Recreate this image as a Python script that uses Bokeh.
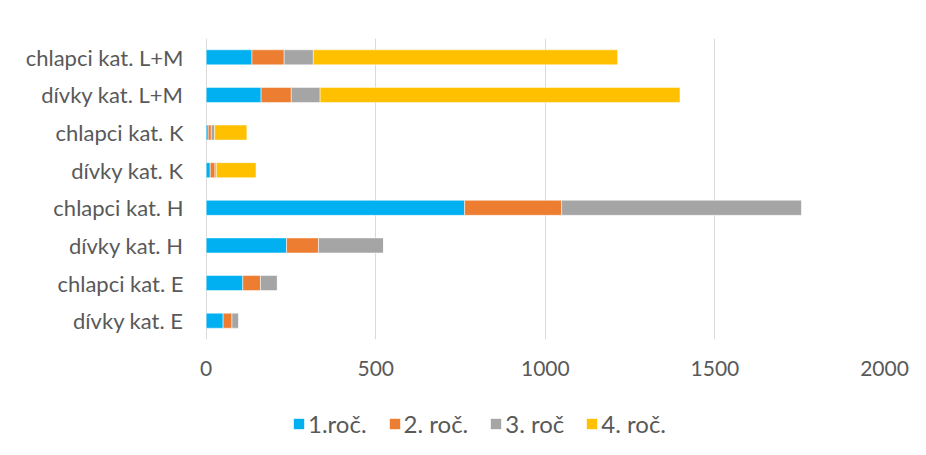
from bokeh.plotting import figure
from bokeh.layouts import column
from bokeh.models import (Range1d, FactorRange, SingleIntervalTicker, Legend, LegendItem,
                          ColumnDataSource)
from bokeh.embed import file_html
from bokeh.resources import INLINE

categories = ["dívky kat. E", "chlapci kat. E", "dívky kat. H", "chlapci kat. H",
              "dívky kat. K", "chlapci kat. K", "dívky kat. L+M", "chlapci kat. L+M"]
series_names = ["1.roč.", "2. roč.", "3. roč", "4. roč."]
r1 = [50, 108, 237, 762, 12, 6, 162, 135]
r2 = [26, 52, 94, 286, 14, 9, 89, 95]
r3 = [20, 50, 192, 708, 4, 10, 85, 86]
r4 = [0, 0, 0, 0, 117, 95, 1061, 897]
colors = ["#00B0F0", "#ED7D31", "#A5A5A5", "#FFC000"]
x_ticks_interval = 500

FONT = "Lato"
TEXT = "#595959"

data = {"cat": categories, "s1": r1, "s2": r2, "s3": r3, "s4": r4}
keys = ["s1", "s2", "s3", "s4"]

p = figure(width=910, height=390, output_backend="svg", toolbar_location=None,
           y_range=FactorRange(factors=categories, range_padding=0),
           x_range=Range1d(-2, 2000),
           min_border_left=205, min_border_right=26, min_border_top=38, min_border_bottom=51)

rs = p.hbar_stack(keys, y="cat", height=0.4, color=colors,
                  line_color="white", line_width=0.5, source=ColumnDataSource(data))

p.xaxis.ticker = SingleIntervalTicker(interval=x_ticks_interval)
p.xgrid.ticker = SingleIntervalTicker(interval=x_ticks_interval)
p.xgrid.grid_line_color = "#d9d9d9"
p.xgrid.grid_line_width = 1
p.ygrid.grid_line_color = None
p.outline_line_color = None

for ax in (p.xaxis, p.yaxis):
    ax.axis_line_color = None
    ax.major_tick_line_color = None
    ax.minor_tick_line_color = None
    ax.major_label_text_font = FONT
    ax.major_label_text_color = TEXT
p.xaxis.major_label_text_font_size = "21px"
p.yaxis.major_label_text_font_size = "22px"
p.xaxis.major_label_standoff = 15
p.yaxis.major_label_standoff = 16

# legend strip: proxy renderers with zero bar height (only the legend swatches show)
pl = figure(width=910, height=55, output_backend="svg", toolbar_location=None,
            x_axis_type=None, y_axis_type=None,
            y_range=FactorRange(factors=categories), x_range=Range1d(0, 2000),
            min_border_left=205, min_border_right=26, min_border_top=0, min_border_bottom=0)
pl.outline_line_color = None
pl.grid.grid_line_color = None
rl = pl.hbar_stack(keys, y="cat", height=0, fill_color=colors, line_color=None,
                   source=ColumnDataSource(data))

legend = Legend(items=[LegendItem(label=n, renderers=[r]) for n, r in zip(series_names, rl)],
                orientation="horizontal", location=(87, 7),
                label_text_font=FONT, label_text_font_size="24px", label_text_color=TEXT,
                glyph_width=13, glyph_height=13, label_standoff=3, spacing=21,
                border_line_color=None, background_fill_alpha=0, margin=0, padding=0)
pl.add_layout(legend, "center")

layout = column(p, pl, spacing=0)
open("out.html", "w").write(file_html(layout, INLINE))
